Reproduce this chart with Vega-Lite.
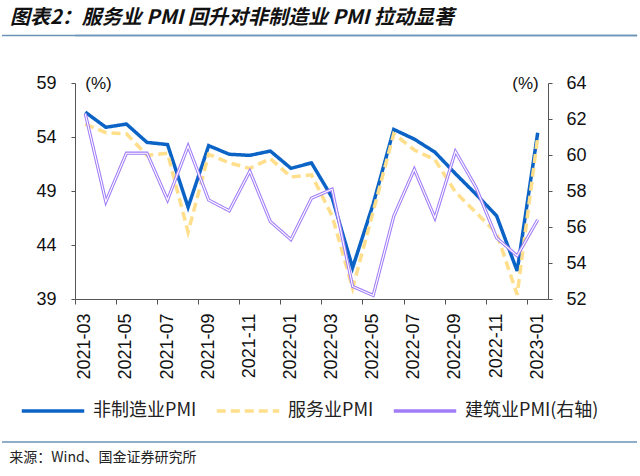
{
  "$schema": "https://vega.github.io/schema/vega-lite/v6.json",
  "padding": {"left": 0, "top": 7, "right": 0, "bottom": 0},
  "background": "white",
  "config": {"font": "Liberation Sans", "view": {"stroke": null}},
  "spacing": 37,
  "align": "none",
  "title": {"text": "图表2：服务业 PMI 回升对非制造业 PMI 拉动显著", "anchor": "start", "frame": "group", "fontSize": 20, "fontWeight": "bold", "fontStyle": "italic", "font": "Noto Sans CJK SC", "color": "#111111", "offset": 7, "dx": -65},
  "vconcat": [
    {
      "width": 562,
      "height": 1,
      "view": {"stroke": "#6b93b8", "strokeWidth": 0.5, "fill": "#6b93b8"},
      "data": {"values": [{"k": "top"}]},
      "mark": {"type": "rule", "color": "#6b93b8", "strokeWidth": 1.5},
      "encoding": {
        "x": {"datum": -0.1299, "type": "quantitative", "scale": {"domain": [0, 1]}, "axis": null},
        "x2": {"datum": 1},
        "y": {"datum": 0.5, "type": "quantitative", "scale": {"domain": [0, 1]}, "axis": null}
      }
    },
    {
      "width": 473,
      "height": 216,
      "data": {"values": [
        {"month": "2021-03", "series": "非制造业PMI", "value": 56.3},
        {"month": "2021-04", "series": "非制造业PMI", "value": 54.9},
        {"month": "2021-05", "series": "非制造业PMI", "value": 55.2},
        {"month": "2021-06", "series": "非制造业PMI", "value": 53.5},
        {"month": "2021-07", "series": "非制造业PMI", "value": 53.3},
        {"month": "2021-08", "series": "非制造业PMI", "value": 47.5},
        {"month": "2021-09", "series": "非制造业PMI", "value": 53.2},
        {"month": "2021-10", "series": "非制造业PMI", "value": 52.4},
        {"month": "2021-11", "series": "非制造业PMI", "value": 52.3},
        {"month": "2021-12", "series": "非制造业PMI", "value": 52.7},
        {"month": "2022-01", "series": "非制造业PMI", "value": 51.1},
        {"month": "2022-02", "series": "非制造业PMI", "value": 51.6},
        {"month": "2022-03", "series": "非制造业PMI", "value": 48.4},
        {"month": "2022-04", "series": "非制造业PMI", "value": 41.9},
        {"month": "2022-05", "series": "非制造业PMI", "value": 47.8},
        {"month": "2022-06", "series": "非制造业PMI", "value": 54.7},
        {"month": "2022-07", "series": "非制造业PMI", "value": 53.8},
        {"month": "2022-08", "series": "非制造业PMI", "value": 52.6},
        {"month": "2022-09", "series": "非制造业PMI", "value": 50.6},
        {"month": "2022-10", "series": "非制造业PMI", "value": 48.7},
        {"month": "2022-11", "series": "非制造业PMI", "value": 46.7},
        {"month": "2022-12", "series": "非制造业PMI", "value": 41.6},
        {"month": "2023-01", "series": "非制造业PMI", "value": 54.4},
        {"month": "2021-03", "series": "服务业PMI", "value": 55.2},
        {"month": "2021-04", "series": "服务业PMI", "value": 54.4},
        {"month": "2021-05", "series": "服务业PMI", "value": 54.3},
        {"month": "2021-06", "series": "服务业PMI", "value": 52.3},
        {"month": "2021-07", "series": "服务业PMI", "value": 52.5},
        {"month": "2021-08", "series": "服务业PMI", "value": 45.2},
        {"month": "2021-09", "series": "服务业PMI", "value": 52.4},
        {"month": "2021-10", "series": "服务业PMI", "value": 51.6},
        {"month": "2021-11", "series": "服务业PMI", "value": 51.1},
        {"month": "2021-12", "series": "服务业PMI", "value": 52.0},
        {"month": "2022-01", "series": "服务业PMI", "value": 50.3},
        {"month": "2022-02", "series": "服务业PMI", "value": 50.5},
        {"month": "2022-03", "series": "服务业PMI", "value": 46.7},
        {"month": "2022-04", "series": "服务业PMI", "value": 40.0},
        {"month": "2022-05", "series": "服务业PMI", "value": 47.1},
        {"month": "2022-06", "series": "服务业PMI", "value": 54.3},
        {"month": "2022-07", "series": "服务业PMI", "value": 52.8},
        {"month": "2022-08", "series": "服务业PMI", "value": 51.9},
        {"month": "2022-09", "series": "服务业PMI", "value": 48.9},
        {"month": "2022-10", "series": "服务业PMI", "value": 47.0},
        {"month": "2022-11", "series": "服务业PMI", "value": 45.1},
        {"month": "2022-12", "series": "服务业PMI", "value": 39.4},
        {"month": "2023-01", "series": "服务业PMI", "value": 54.0},
        {"month": "2021-03", "series": "建筑业PMI(右轴)", "value": 62.3},
        {"month": "2021-04", "series": "建筑业PMI(右轴)", "value": 57.4},
        {"month": "2021-05", "series": "建筑业PMI(右轴)", "value": 60.1},
        {"month": "2021-06", "series": "建筑业PMI(右轴)", "value": 60.1},
        {"month": "2021-07", "series": "建筑业PMI(右轴)", "value": 57.5},
        {"month": "2021-08", "series": "建筑业PMI(右轴)", "value": 60.5},
        {"month": "2021-09", "series": "建筑业PMI(右轴)", "value": 57.5},
        {"month": "2021-10", "series": "建筑业PMI(右轴)", "value": 56.9},
        {"month": "2021-11", "series": "建筑业PMI(右轴)", "value": 59.1},
        {"month": "2021-12", "series": "建筑业PMI(右轴)", "value": 56.3},
        {"month": "2022-01", "series": "建筑业PMI(右轴)", "value": 55.3},
        {"month": "2022-02", "series": "建筑业PMI(右轴)", "value": 57.6},
        {"month": "2022-03", "series": "建筑业PMI(右轴)", "value": 58.1},
        {"month": "2022-04", "series": "建筑业PMI(右轴)", "value": 52.7},
        {"month": "2022-05", "series": "建筑业PMI(右轴)", "value": 52.2},
        {"month": "2022-06", "series": "建筑业PMI(右轴)", "value": 56.6},
        {"month": "2022-07", "series": "建筑业PMI(右轴)", "value": 59.2},
        {"month": "2022-08", "series": "建筑业PMI(右轴)", "value": 56.5},
        {"month": "2022-09", "series": "建筑业PMI(右轴)", "value": 60.2},
        {"month": "2022-10", "series": "建筑业PMI(右轴)", "value": 58.2},
        {"month": "2022-11", "series": "建筑业PMI(右轴)", "value": 55.4},
        {"month": "2022-12", "series": "建筑业PMI(右轴)", "value": 54.4},
        {"month": "2023-01", "series": "建筑业PMI(右轴)", "value": 56.4}
      ]},
      "encoding": {
        "x": {
          "field": "month", "type": "ordinal", "sort": null, "bandPosition": 0.5,
          "scale": {"type": "band", "paddingInner": 0, "paddingOuter": 0},
          "axis": {
            "title": null,
            "values": ["2021-03", "2021-05", "2021-07", "2021-09", "2021-11", "2022-01", "2022-03", "2022-05", "2022-07", "2022-09", "2022-11", "2023-01"],
            "bandPosition": 0,
            "labelOffset": 0,
            "labelAngle": -90,
            "labelAlign": "right",
            "labelBaseline": "middle",
            "labelFontSize": 18,
            "labelColor": "#111111",
            "labelPadding": 9,
            "tickSize": 5,
            "tickColor": "#555555",
            "domainColor": "#555555",
            "grid": false,
            "minExtent": 105
          }
        }
      },
      "layer": [
        {
          "encoding": {
            "y": {
              "field": "value", "type": "quantitative",
              "scale": {"domain": [39, 59], "zero": false, "nice": false},
              "axis": {
                "orient": "left",
                "values": [39, 44, 49, 54, 59],
                "grid": false,
                "tickSize": 4,
                "tickColor": "#555555",
                "domainColor": "#555555",
                "labelFontSize": 18,
                "labelColor": "#111111",
                "labelPadding": 15,
                "minExtent": 73,
                "title": "(%)",
                "titleAngle": 0,
                "titleX": 23,
                "titleY": 0,
                "titleAlign": "center",
                "titleBaseline": "middle",
                "titleFontWeight": "normal",
                "titleFontSize": 17,
                "titleColor": "#111111"
              }
            }
          },
          "layer": [
            {
              "transform": [{"filter": "datum.series === '非制造业PMI'"}],
              "mark": {"type": "line", "strokeWidth": 3.5, "strokeJoin": "miter"},
              "encoding": {
                "color": {"field": "series", "type": "nominal", "scale": {"domain": ["非制造业PMI", "服务业PMI", "建筑业PMI(右轴)"], "range": ["#0b63c5", "#ffdf8c", "#a07cf8"]}, "legend": {"orient": "none", "legendX": -55, "legendY": 343, "direction": "horizontal", "title": null, "symbolType": "stroke", "symbolSize": 3900, "symbolStrokeWidth": 3.5, "labelFontSize": 18, "labelFont": "Noto Sans CJK SC", "labelColor": "#222222", "columnPadding": 12, "labelOffset": 7}},
                "strokeDash": {"field": "series", "type": "nominal", "scale": {"domain": ["非制造业PMI", "服务业PMI", "建筑业PMI(右轴)"], "range": [[1, 0], [9, 5], [1, 0]]}, "legend": {"orient": "none", "legendX": -55, "legendY": 343, "direction": "horizontal", "title": null, "symbolType": "stroke", "symbolSize": 3900, "symbolStrokeWidth": 3.5, "labelFontSize": 18, "labelFont": "Noto Sans CJK SC", "labelColor": "#222222", "columnPadding": 12, "labelOffset": 7}}
              }
            },
            {
              "transform": [{"filter": "datum.series === '服务业PMI'"}],
              "mark": {"type": "line", "strokeWidth": 3.5},
              "encoding": {
                "color": {"field": "series", "type": "nominal", "scale": {"domain": ["非制造业PMI", "服务业PMI", "建筑业PMI(右轴)"], "range": ["#0b63c5", "#ffdf8c", "#a07cf8"]}, "legend": {"orient": "none", "legendX": -55, "legendY": 343, "direction": "horizontal", "title": null, "symbolType": "stroke", "symbolSize": 3900, "symbolStrokeWidth": 3.5, "labelFontSize": 18, "labelFont": "Noto Sans CJK SC", "labelColor": "#222222", "columnPadding": 12, "labelOffset": 7}},
                "strokeDash": {"field": "series", "type": "nominal", "scale": {"domain": ["非制造业PMI", "服务业PMI", "建筑业PMI(右轴)"], "range": [[1, 0], [9, 5], [1, 0]]}, "legend": {"orient": "none", "legendX": -55, "legendY": 343, "direction": "horizontal", "title": null, "symbolType": "stroke", "symbolSize": 3900, "symbolStrokeWidth": 3.5, "labelFontSize": 18, "labelFont": "Noto Sans CJK SC", "labelColor": "#222222", "columnPadding": 12, "labelOffset": 7}}
              }
            }
          ]
        },
        {
          "transform": [{"filter": "datum.series === '建筑业PMI(右轴)'"}],
          "encoding": {
            "y": {
              "field": "value", "type": "quantitative",
              "scale": {"domain": [52, 64], "zero": false, "nice": false},
              "axis": {
                "orient": "right",
                "values": [52, 54, 56, 58, 60, 62, 64],
                "grid": false,
                "tickSize": 4,
                "tickColor": "#555555",
                "domainColor": "#555555",
                "labelFontSize": 18,
                "labelColor": "#111111",
                "labelPadding": 14,
                "title": "(%)",
                "titleAngle": 0,
                "titleX": -23,
                "titleY": 0,
                "titleAlign": "center",
                "titleBaseline": "middle",
                "titleFontWeight": "normal",
                "titleFontSize": 17,
                "titleColor": "#111111"
              }
            }
          },
          "layer": [
            {
              "mark": {"type": "line", "strokeWidth": 3.2},
              "encoding": {
                "color": {"field": "series", "type": "nominal", "scale": {"domain": ["非制造业PMI", "服务业PMI", "建筑业PMI(右轴)"], "range": ["#0b63c5", "#ffdf8c", "#a07cf8"]}, "legend": {"orient": "none", "legendX": -55, "legendY": 343, "direction": "horizontal", "title": null, "symbolType": "stroke", "symbolSize": 3900, "symbolStrokeWidth": 3.5, "labelFontSize": 18, "labelFont": "Noto Sans CJK SC", "labelColor": "#222222", "columnPadding": 12, "labelOffset": 7}},
                "strokeDash": {"field": "series", "type": "nominal", "scale": {"domain": ["非制造业PMI", "服务业PMI", "建筑业PMI(右轴)"], "range": [[1, 0], [9, 5], [1, 0]]}, "legend": {"orient": "none", "legendX": -55, "legendY": 343, "direction": "horizontal", "title": null, "symbolType": "stroke", "symbolSize": 3900, "symbolStrokeWidth": 3.5, "labelFontSize": 18, "labelFont": "Noto Sans CJK SC", "labelColor": "#222222", "columnPadding": 12, "labelOffset": 7}}
              }
            },
            {
              "mark": {"type": "line", "strokeWidth": 1.1, "color": "white"},
              "encoding": {}
            }
          ]
        }
      ],
      "resolve": {"scale": {"y": "independent"}}
    },
    {
      "width": 562,
      "height": 1,
      "data": {"values": [{"k": "bottom"}]},
      "mark": {"type": "rule", "color": "#6b93b8", "strokeWidth": 1.5},
      "encoding": {
        "x": {"datum": -0.1299, "type": "quantitative", "scale": {"domain": [0, 1]}, "axis": null},
        "x2": {"datum": 1},
        "y": {"datum": 1, "type": "quantitative", "scale": {"domain": [0, 1]}, "axis": null}
      },
      "title": {"text": "来源：Wind、国金证券研究所", "orient": "bottom", "anchor": "start", "fontSize": 14, "fontWeight": "normal", "font": "Noto Sans CJK SC", "color": "#222222", "offset": 8, "dx": 8}
    }
  ]
}
